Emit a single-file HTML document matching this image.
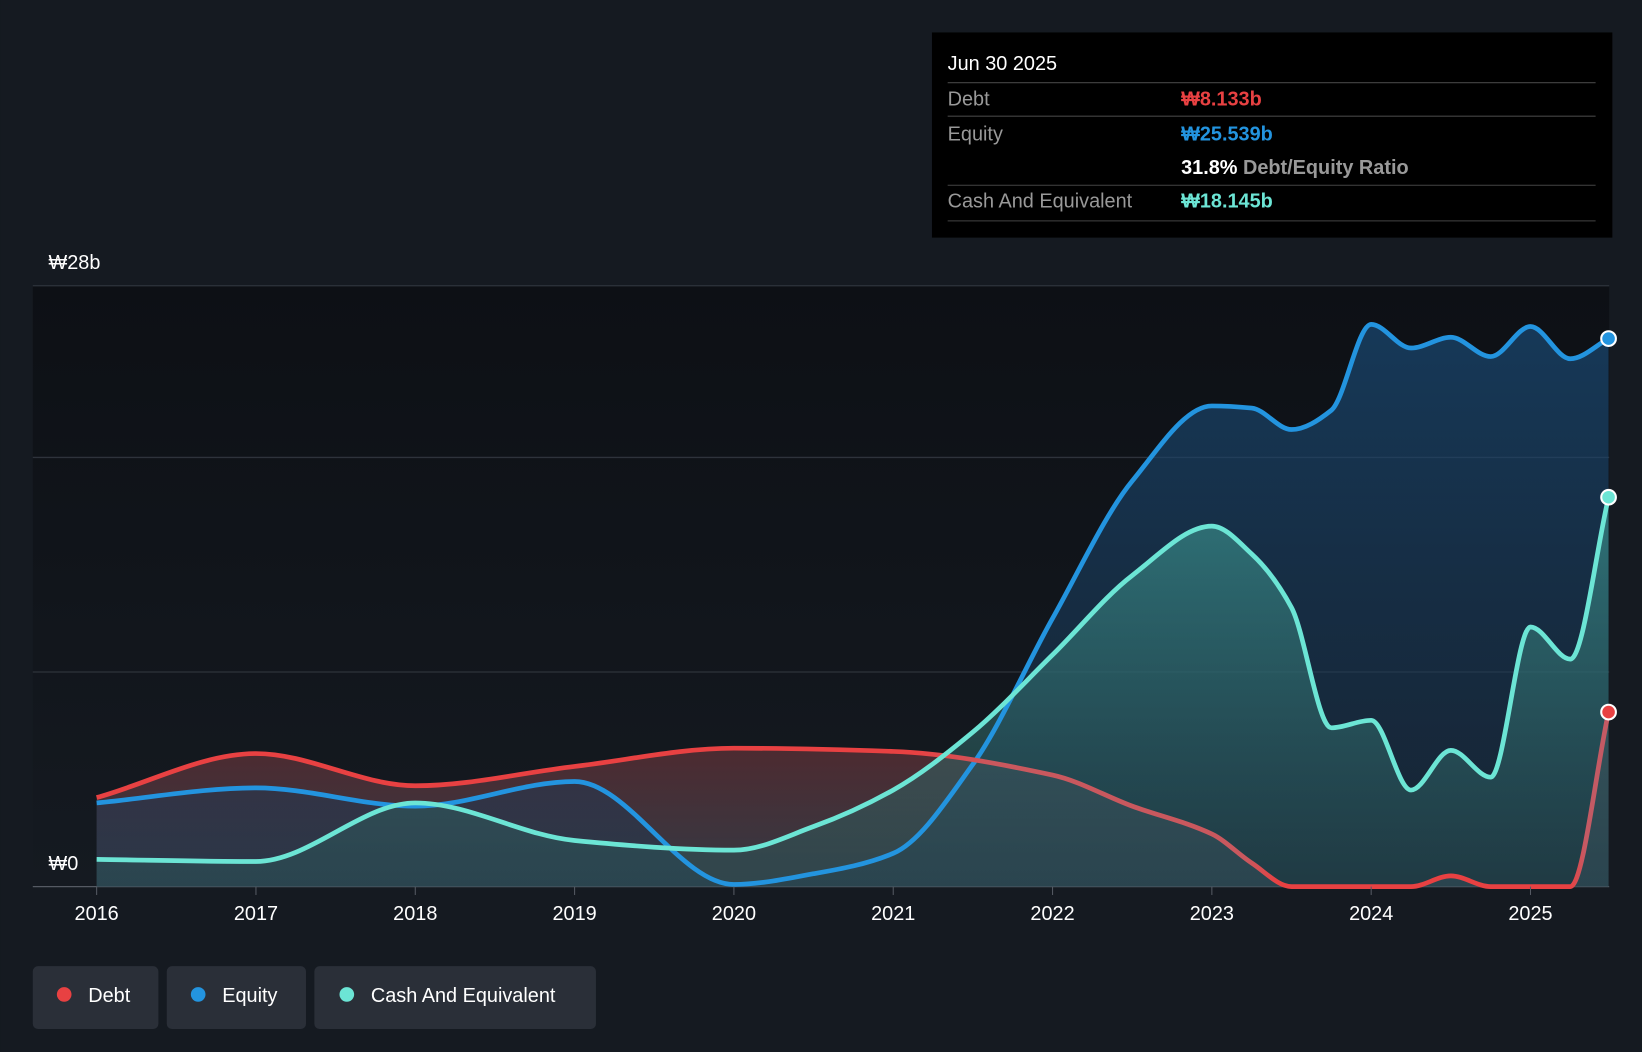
<!DOCTYPE html>
<html><head><meta charset="utf-8"><style>
html,body{margin:0;padding:0;background:#151a21;}
svg{display:block;font-family:"Liberation Sans","Noto Sans CJK KR",sans-serif;}
</style></head><body>
<svg id="chart" width="1642" height="1052" viewBox="0 0 1568 1005" xmlns="http://www.w3.org/2000/svg">
<defs>
<linearGradient id="bgG" x1="0" y1="0" x2="0" y2="1"><stop offset="0" stop-color="#0d1015"/><stop offset="1" stop-color="#151a21"/></linearGradient>
<linearGradient id="eqG" x1="0" y1="0" x2="0" y2="1"><stop offset="0" stop-color="#1a4a75" stop-opacity="0.7"/><stop offset="1" stop-color="#1b3550" stop-opacity="0.4"/></linearGradient>
<linearGradient id="caG" x1="0" y1="0" x2="0" y2="1"><stop offset="0" stop-color="#3a8f8c" stop-opacity="0.7"/><stop offset="1" stop-color="#2a5456" stop-opacity="0.45"/></linearGradient>
<linearGradient id="deG" x1="0" y1="0" x2="0" y2="1"><stop offset="0" stop-color="#6b2a2e" stop-opacity="0.75"/><stop offset="1" stop-color="#4a4e5a" stop-opacity="0.6"/></linearGradient>
<linearGradient id="deL" gradientUnits="userSpaceOnUse" x1="31" y1="0" x2="1537" y2="0">
<stop offset="0.56" stop-color="#e84142"/><stop offset="0.61" stop-color="#c9585e"/><stop offset="0.77" stop-color="#c9585e"/><stop offset="0.79" stop-color="#e84142"/><stop offset="0.975" stop-color="#e84142"/><stop offset="0.985" stop-color="#c45a64"/>
</linearGradient>
</defs>
<rect x="0" y="0" width="1568" height="1005" fill="#151a21"/>
<rect x="31" y="273" width="1506" height="574" fill="url(#bgG)"/>
<g id="grid"></g>
<g id="layers"></g>
<g id="xaxis"></g>
<text x="46" y="257" fill="#fff" font-size="19">₩28b</text>
<text x="46" y="831" fill="#fff" font-size="19">₩0</text>

<g>
<rect x="890" y="31" width="650" height="196" fill="#000"/>
<text x="905" y="67" fill="#fff" font-size="19">Jun 30 2025</text>
<line x1="905" y1="79" x2="1524" y2="79" stroke="#444"/>
<text x="905" y="101" fill="#999" font-size="19">Debt</text>
<text x="1128" y="101" fill="#e84142" font-size="19" font-weight="bold">₩8.133b</text>
<line x1="905" y1="111" x2="1524" y2="111" stroke="#444"/>
<text x="905" y="134" fill="#999" font-size="19">Equity</text>
<text x="1128" y="134" fill="#2394df" font-size="19" font-weight="bold">₩25.539b</text>
<text x="1128" y="166" fill="#fff" font-size="19" font-weight="bold">31.8% <tspan fill="#999" font-weight="bold">Debt/Equity Ratio</tspan></text>
<line x1="905" y1="177" x2="1524" y2="177" stroke="#444"/>
<text x="905" y="198" fill="#999" font-size="19">Cash And Equivalent</text>
<text x="1128" y="198" fill="#6ce5d5" font-size="19" font-weight="bold">₩18.145b</text>
<line x1="905" y1="211" x2="1524" y2="211" stroke="#444"/>
</g>

<g>
<g><rect x="31" y="923" width="120" height="60" rx="5" fill="#2a2f38"/><circle cx="61" cy="950" r="7" fill="#e84142"/><text x="84" y="957" fill="#fff" font-size="19">Debt</text></g>
<g><rect x="159" y="923" width="133" height="60" rx="5" fill="#2a2f38"/><circle cx="189" cy="950" r="7" fill="#2394df"/><text x="212" y="957" fill="#fff" font-size="19">Equity</text></g>
<g><rect x="300" y="923" width="269" height="60" rx="5" fill="#2a2f38"/><circle cx="331" cy="950" r="7" fill="#6ce5d5"/><text x="354" y="957" fill="#fff" font-size="19">Cash And Equivalent</text></g>
</g>
</svg>
<script>
const years=[2016,2017,2018,2019,2020,2021,2022,2023,2024,2025];
const debtT=[2016,2017,2018,2019,2020,2021,2022,2022.5,2023,2023.25,2023.5,2024,2024.25,2024.5,2024.75,2025,2025.25,2025.49];
const debtV=[4.15,6.2,4.7,5.6,6.45,6.3,5.2,3.75,2.45,1.1,0,0,0,0.5,0,0,0,8.133];
const eqT=[2016,2017,2018,2019,2020,2020.5,2021,2021.5,2022,2022.5,2023,2023.25,2023.5,2023.75,2024,2024.25,2024.5,2024.75,2025,2025.25,2025.49];
const eqV=[3.9,4.6,3.75,4.9,0.1,0.6,1.55,5.7,12.5,18.9,22.4,22.3,21.3,22.2,26.2,25.1,25.6,24.7,26.1,24.6,25.539];
const caT=[2016,2017,2018,2019,2020,2020.5,2021,2021.5,2022,2022.5,2023,2023.25,2023.5,2023.75,2024,2024.25,2024.5,2024.75,2025,2025.25,2025.49];
const caV=[1.27,1.17,3.9,2.15,1.7,2.8,4.5,7.2,10.8,14.5,16.8,15.5,13,7.4,7.75,4.5,6.35,5.1,12.1,10.6,18.145];
const gridVals=[0,10,20,28];
const NS='http://www.w3.org/2000/svg';
const X=t=>92+(t-2016)*152.2;
const Y=v=>847-v*20.5;
function mk(tag,attrs,parent){const e=document.createElementNS(NS,tag);for(const k in attrs)e.setAttribute(k,attrs[k]);parent.appendChild(e);return e;}
function monoPath(xs,ys){
 const n=xs.length,d=[],m=[];
 for(let i=0;i<n-1;i++)d.push((ys[i+1]-ys[i])/(xs[i+1]-xs[i]));
 m[0]=d[0];m[n-1]=d[n-2];
 for(let i=1;i<n-1;i++){ if(d[i-1]*d[i]<=0)m[i]=0; else m[i]=2/(1/d[i-1]+1/d[i]); }
 let p='M'+xs[0]+','+ys[0];
 for(let i=0;i<n-1;i++){const h=xs[i+1]-xs[i];
  p+=' C'+(xs[i]+h/3)+','+(ys[i]+m[i]*h/3)+' '+(xs[i+1]-h/3)+','+(ys[i+1]-m[i+1]*h/3)+' '+xs[i+1]+','+ys[i+1];}
 return p;}
const grid=document.getElementById('grid');
gridVals.forEach(v=>{const l=mk('line',{x1:31,x2:1537,y1:Y(v),y2:Y(v),stroke:v===0?'#555a63':'#2e333b','stroke-width':1.2},grid);

});
const xa=document.getElementById('xaxis');
years.forEach(y=>{const t=mk('line',{x1:X(y),x2:X(y),y1:847,y2:855,stroke:'#555a63'},xa);


const tx=mk('text',{x:X(y),y:879,fill:'#fff','font-size':19,'text-anchor':'middle'},xa);tx.textContent=y;

});
const layers=document.getElementById('layers');
const S={equity:[eqT,eqV,'#2394df','url(#eqG)'],cash:[caT,caV,'#6ce5d5','url(#caG)'],debt:[debtT,debtV,'url(#deL)','url(#deG)']};
const P={};
for(const k in S){const xs=S[k][0].map(X),ys=S[k][1].map(Y);P[k]={xs,ys,p:monoPath(xs,ys)};}
function area(k){const o=P[k];const a=mk('path',{d:o.p+' L'+o.xs[o.xs.length-1]+',847 L'+o.xs[0]+',847 Z',fill:S[k][3]},layers);
 
 }
function line(k){const o=P[k];const l=mk('path',{d:o.p,fill:'none',stroke:S[k][2],'stroke-width':4.5,'stroke-linejoin':'round'},layers);
 
 }
function dot(k,col){const o=P[k];const c=mk('circle',{cx:o.xs[o.xs.length-1],cy:o.ys[o.ys.length-1],r:7,fill:col,stroke:'#fff','stroke-width':2},layers);
 
 }
area('debt');area('equity');area('cash');line('equity');line('debt');line('cash');
dot('debt','#e84142');dot('cash','#6ce5d5');dot('equity','#2394df');
</script>
</body></html>
